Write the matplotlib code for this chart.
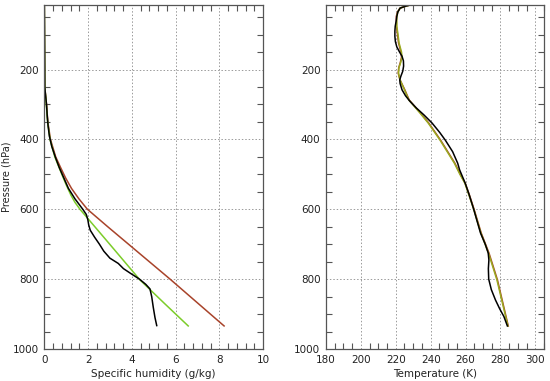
import numpy as np
import matplotlib
matplotlib.use("Agg")
import matplotlib.pyplot as plt
from matplotlib.ticker import MultipleLocator

# --- specific humidity profiles (g/kg) vs pressure (hPa) ---
q_obs_p = [15, 250, 270, 300, 330, 360, 390, 420, 450, 480, 510, 540, 570, 600,
           615, 630, 645, 660, 680, 700, 720, 740, 755, 770, 785, 800, 815, 828,
           850, 880, 910, 933]
q_obs = [0.0, 0.02, 0.05, 0.10, 0.13, 0.17, 0.23, 0.34, 0.50, 0.68, 0.89, 1.10,
         1.40, 1.76, 1.92, 1.99, 2.03, 2.10, 2.30, 2.52, 2.72, 3.00, 3.38, 3.62,
         3.98, 4.35, 4.64, 4.83, 4.91, 4.98, 5.06, 5.14]

q_grn_p = [15, 250, 300, 350, 400, 450, 500, 530, 560, 580, 600, 700, 802, 870, 934]
q_grn = [0.0, 0.02, 0.09, 0.15, 0.26, 0.48, 0.80, 1.00, 1.22, 1.40, 1.63, 2.99,
         4.37, 5.50, 6.58]

q_brn_p = [15, 250, 300, 350, 400, 450, 480, 510, 540, 570, 600, 650, 700, 800, 934]
q_brn = [0.0, 0.02, 0.10, 0.16, 0.28, 0.52, 0.74, 0.97, 1.24, 1.58, 1.97, 2.90,
         3.85, 5.75, 8.22]

# --- temperature profiles (K) vs pressure (hPa) ---
t_obs_p = [14, 18, 24, 35, 48, 62, 76, 90, 105, 120, 135, 150, 162, 175, 190,
           205, 218, 229, 240, 258, 275, 290, 310, 330, 353, 380, 402, 435, 468,
           487, 525, 560, 600, 635, 668, 700, 725, 745, 770, 800, 830, 860, 885,
           907, 934]
t_obs = [229.2, 226.0, 222.5, 221.2, 220.6, 220.2, 219.7, 219.5, 219.5, 219.8,
         220.6, 222.2, 223.6, 224.4, 224.5, 224.0, 223.0, 222.3, 222.5, 223.6,
         225.6, 228.0, 231.8, 236.2, 240.8, 245.2, 248.4, 252.6, 255.5, 256.6,
         259.8, 262.2, 264.7, 266.7, 268.6, 271.3, 273.0, 273.4, 273.1, 273.3,
         274.8, 277.2, 279.6, 282.0, 284.0]

t_grn_p = [14, 18, 24, 35, 48, 76, 100, 124, 150, 165, 180, 195, 210, 229, 258,
           287, 325, 353, 402, 468, 500, 525, 560, 600, 668, 726, 802, 934]
t_grn = [229.2, 226.0, 222.5, 221.2, 220.6, 220.6, 221.3, 221.9, 223.3, 223.6,
         222.8, 221.8, 221.6, 222.4, 225.0, 227.5, 234.0, 238.6, 245.4, 253.6,
         256.8, 259.6, 262.0, 264.7, 268.8, 273.2, 278.0, 284.3]

t_brn_p = [14, 18, 24, 35, 48, 76, 100, 124, 150, 165, 180, 195, 210, 229, 258,
           287, 325, 353, 402, 468, 500, 525, 560, 600, 668, 726, 802, 934]
t_brn = [229.2, 226.0, 222.5, 221.0, 220.3, 220.4, 221.0, 221.6, 223.0, 223.3,
         222.6, 221.7, 221.4, 222.4, 225.2, 227.7, 234.3, 238.9, 245.7, 253.9,
         257.0, 259.8, 262.3, 264.9, 269.0, 273.5, 278.3, 284.5]

GREEN = "#7ccc2a"
BROWN = "#a8432a"
GRID = "#9a9a9a"
AXC = "#555555"

fig = plt.figure(figsize=(5.5, 3.81), dpi=100)
ax1 = fig.add_axes([0.0806, 0.084, 0.3976, 0.903])
ax2 = fig.add_axes([0.5927, 0.084, 0.3964, 0.903])


def style(ax):
    for sp in ax.spines.values():
        sp.set_color(AXC)
        sp.set_linewidth(0.9)
    ax.grid(True, which="major", color=GRID, linestyle=(0, (1.5, 2)), linewidth=0.7)
    ax.tick_params(which="both", direction="in", top=True, right=True,
                   length=4.5, width=0.8, color=AXC, labelsize=7.5,
                   labelcolor="#222222", pad=4)
    ax.tick_params(which="major", length=0)
    ax.yaxis.set_major_locator(MultipleLocator(200))
    ax.yaxis.set_minor_locator(MultipleLocator(50))
    ax.set_ylim(1000, 15)


# left panel
ax1.plot(q_brn, q_brn_p, color=BROWN, lw=1.1, solid_joinstyle="round")
ax1.plot(q_grn, q_grn_p, color=GREEN, lw=1.1, solid_joinstyle="round")
ax1.plot(q_obs, q_obs_p, color="black", lw=1.1, solid_joinstyle="round")
ax1.plot([0, 0], [15, 250], color="#e02020", lw=1.2)
ax1.set_xlim(0, 10)
ax1.xaxis.set_major_locator(MultipleLocator(2))
ax1.xaxis.set_minor_locator(MultipleLocator(0.4))
style(ax1)
ax1.set_xlabel("Specific humidity (g/kg)", fontsize=7.5, color="#222222", labelpad=3)
ax1.set_ylabel("Pressure (hPa)", fontsize=7, color="#222222")
ax1.yaxis.set_label_coords(-0.15, 0.5)

# right panel
ax2.plot(t_brn, t_brn_p, color=BROWN, lw=1.1, solid_joinstyle="round")
ax2.plot(t_grn, t_grn_p, color="#9aaa20", lw=1.1, solid_joinstyle="round")
ax2.plot(t_obs, t_obs_p, color="black", lw=1.1, solid_joinstyle="round")
ax2.set_xlim(180, 305)
ax2.xaxis.set_major_locator(MultipleLocator(20))
ax2.xaxis.set_minor_locator(MultipleLocator(5))
style(ax2)
ax2.set_xlabel("Temperature (K)", fontsize=7.5, color="#222222", labelpad=3)

fig.savefig("out.png", dpi=100)
